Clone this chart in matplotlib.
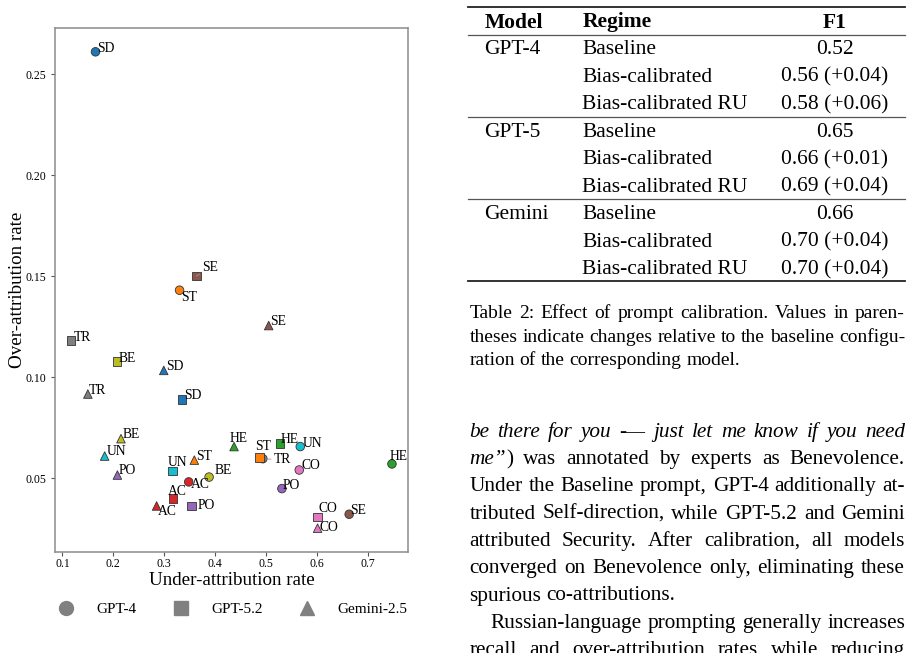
import matplotlib
matplotlib.use("Agg")
import matplotlib.pyplot as plt
from matplotlib.lines import Line2D

# ---------------- data ----------------
values = ["SD", "ST", "HE", "AC", "PO", "SE", "CO", "TR", "BE", "UN"]
value_colors = ["tab:blue", "tab:orange", "tab:green", "tab:red", "tab:purple",
                "tab:brown", "tab:pink", "tab:gray", "tab:olive", "tab:cyan"]
models = ["GPT-4", "GPT-5.2", "Gemini-2.5"]
model_markers = ["o", "s", "^"]

under_gpt4 = [0.165, 0.330, 0.747, 0.348, 0.531, 0.663, 0.565, 0.4935, 0.388, 0.567]
over_gpt4 = [0.261, 0.143, 0.057, 0.0481, 0.0448, 0.0321, 0.054, 0.0596, 0.0505, 0.0656]
under_gpt52 = [0.335, 0.487, 0.527, 0.317, 0.354, 0.363, 0.601, 0.117, 0.207, 0.316]
over_gpt52 = [0.0889, 0.0601, 0.067, 0.040, 0.0362, 0.150, 0.0308, 0.118, 0.1076, 0.0535]
under_gemini = [0.299, 0.359, 0.437, 0.285, 0.208, 0.505, 0.601, 0.150, 0.215, 0.183]
over_gemini = [0.1033, 0.0589, 0.0656, 0.0362, 0.0515, 0.1255, 0.0252, 0.0916, 0.0695, 0.0609]

under_rates = [under_gpt4, under_gpt52, under_gemini]
over_rates = [over_gpt4, over_gpt52, over_gemini]

table_models = ["GPT-4", "GPT-5", "Gemini"]
table_regimes = ["Baseline", "Bias-calibrated", "Bias-calibrated RU"]
table_f1 = [["0.52", "0.56 (+0.04)", "0.58 (+0.06)"],
            ["0.65", "0.66 (+0.01)", "0.69 (+0.04)"],
            ["0.66", "0.70 (+0.04)", "0.70 (+0.04)"]]

caption_lines = ["Table 2: Effect of prompt calibration. Values in paren-",
                 "theses indicate changes relative to the baseline configu-",
                 "ration of the corresponding model."]
body_lines = ["_be there for you -\u2014 just let me know if you need_",
              "_me\u201d_) was annotated by experts as Benevolence.",
              "Under the Baseline prompt, GPT-4 additionally at-",
              "tributed Self-direction, while GPT-5.2 and Gemini",
              "attributed Security.  After calibration, all models",
              "converged on Benevolence only, eliminating these",
              "spurious co-attributions.",
              "Russian-language prompting generally increases",
              "recall and over-attribution rates while reducing"]

# label offsets in pixels (layout only)
label_offsets = [
    [(2, 0), (2, -11), (-2, 3.7), (2, -5.6), (1, 0), (1, 0), (2, 0.7), (11, -4.7), (6, 2.7), (2, 0)],
    [(2, 0), (-4, 7.6), (1, 1), (-5.4, 3), (6, -3.3), (6, 5), (1, 5), (3, 0), (2, 0), (-5, 5)],
    [(2, 0), (2, 0), (-4, 4.6), (1, -9.3), (1.5, 0.7), (1.5, 1), (2, -3.3), (1, 0), (2, 1), (2, 0.7)],
]
connectors = {(0, 7), (1, 5)}

SERIF = ["Liberation Serif", "DejaVu Serif"]
plt.rcParams["font.family"] = SERIF

W, H = 914, 653
fig = plt.figure(figsize=(W / 100, H / 100), dpi=100)


def fx(x):
    return x / W


def fy(y):
    return 1 - y / H


# ---------------- scatter ----------------
ax = fig.add_axes([fx(55), fy(552), (408 - 55) / W, (552 - 28) / H])
for mi, m in enumerate(models):
    ax.scatter(under_rates[mi], over_rates[mi], c=value_colors, marker=model_markers[mi],
               s=38, edgecolors="#333333", linewidths=0.6, zorder=3)
    for vi, v in enumerate(values):
        dx, dy = label_offsets[mi][vi]
        kw = {}
        if (mi, vi) in connectors:
            kw["arrowprops"] = dict(arrowstyle="-", color="#999999", lw=0.6, shrinkA=0, shrinkB=3)
        ax.annotate(v, (under_rates[mi][vi], over_rates[mi][vi]), xytext=(dx, dy),
                    textcoords="offset pixels", ha="left", va="baseline",
                    fontsize=9.8, zorder=4, **kw)

for sp in ax.spines.values():
    sp.set_color("#8c8c8c")
    sp.set_linewidth(1.1)
ax.tick_params(axis="both", labelsize=8.5, length=3, width=0.8, color="#555555")
ax.tick_params(axis="x", pad=1.5)
ax.set_xlabel("Under-attribution rate", fontsize=13.7)
ax.set_ylabel("Over-attribution rate", fontsize=13.7)
ax.xaxis.set_label_coords(0.5, -0.038)
ax.yaxis.set_label_coords(-0.082, 0.5)

handles = [Line2D([], [], marker=mk, linestyle="none", color="#808080", markersize=10)
           for mk in model_markers]
fig.legend(handles, models, loc="center", bbox_to_anchor=(fx(233), fy(609)), ncol=3,
           frameon=False, fontsize=11, handlelength=1.0, handletextpad=1.5, columnspacing=2.4)

# ---------------- table ----------------
tx0, tx1 = 468, 905
col_model, col_regime, col_f1 = 484.3, 582.3, 834.5
TS = 15.5
fig.add_artist(Line2D([fx(tx0), fx(tx1)], [fy(7.3), fy(7.3)], color="#222222", lw=1.3))
fig.add_artist(Line2D([fx(tx0), fx(tx1)], [fy(34.7), fy(34.7)], color="#555555", lw=0.9))
fig.add_artist(Line2D([fx(tx0), fx(tx1)], [fy(116.7), fy(116.7)], color="#555555", lw=0.9))
fig.add_artist(Line2D([fx(tx0), fx(tx1)], [fy(199.3), fy(199.3)], color="#555555", lw=0.9))
fig.add_artist(Line2D([fx(tx0), fx(tx1)], [fy(281), fy(281)], color="#222222", lw=1.3))
hb = 27.5
fig.text(fx(col_model), fy(hb), "Model", fontsize=TS, fontweight="bold", va="baseline")
fig.text(fx(col_regime), fy(hb), "Regime", fontsize=TS, fontweight="bold", va="baseline")
fig.text(fx(col_f1), fy(hb), "F1", fontsize=TS, fontweight="bold", va="baseline", ha="center")
row_base = [54, 81.7, 109.3, 136.7, 164, 191.7, 219.3, 246.7, 274]
r = 0
for gi, gm in enumerate(table_models):
    for ri, reg in enumerate(table_regimes):
        y = row_base[r]
        if ri == 0:
            fig.text(fx(col_model), fy(y), gm, fontsize=TS, va="baseline")
        fig.text(fx(col_regime), fy(y), reg, fontsize=TS, va="baseline")
        fig.text(fx(col_f1), fy(y), table_f1[gi][ri], fontsize=TS, va="baseline", ha="center")
        r += 1

# ---------------- justified paragraphs ----------------
renderer = fig.canvas.get_renderer()


def parse(line, it):
    words = []
    for raw in line.split():
        segs = []
        parts = raw.split("_")
        for i, p in enumerate(parts):
            if i > 0:
                it = not it
            if p:
                segs.append((p, it))
        words.append(segs)
    return words, it


def draw_line(line, x0, x1, y, size, justify, it=False):
    words, it = parse(line, it)
    placed = []
    total = 0
    for segs in words:
        objs = []
        ww = 0
        for s, ital in segs:
            t = fig.text(0, 0, s, fontsize=size, style="italic" if ital else "normal",
                         va="baseline", ha="left")
            w = t.get_window_extent(renderer).width
            objs.append((t, w))
            ww += w
        placed.append((objs, ww))
        total += ww
    sp = fig.text(0, 0, "a b", fontsize=size)
    spw = sp.get_window_extent(renderer).width
    sp2 = fig.text(0, 0, "ab", fontsize=size)
    spw -= sp2.get_window_extent(renderer).width
    sp.remove()
    sp2.remove()
    if justify and len(placed) > 1:
        gap = (x1 - x0 - total) / (len(placed) - 1)
    else:
        gap = spw
    x = x0
    for objs, ww in placed:
        xx = x
        for t, w in objs:
            t.set_position((fx(xx), fy(y)))
            xx += w
        x += ww + gap
    return it


cap_base = [318, 341.7, 365.3]
for i, ln in enumerate(caption_lines):
    draw_line(ln, 469.3, 905, cap_base[i], 14.0, i < len(caption_lines) - 1)

body_base = [436.7 + 27.3 * i for i in range(len(body_lines))]
body_just = [True, True, True, True, True, True, False, True, True]
body_indent = [0, 0, 0, 0, 0, 0, 0, 21.5, 0]
for i, ln in enumerate(body_lines):
    draw_line(ln, 469.3 + body_indent[i], 905, body_base[i], 15.3, body_just[i])

fig.savefig("out.png", dpi=100)
